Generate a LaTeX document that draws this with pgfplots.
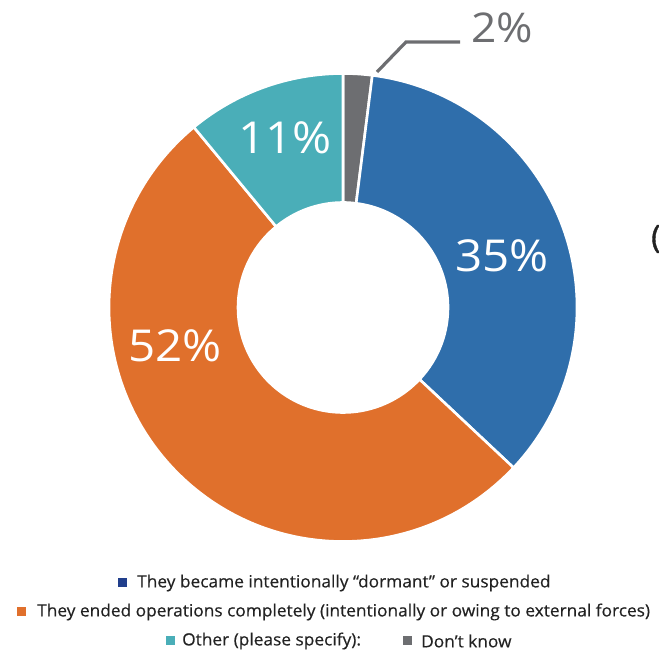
\documentclass[border=0pt]{standalone}
\usepackage{pgfplots}
\pgfplotsset{compat=1.18}
\usepackage{pgfplotstable}
\usepackage{fontspec}
\setmainfont{Open Sans}
\newfontfamily\legfont[FakeStretch=1.03,FakeBold=0.4]{Open Sans}
\newfontfamily\labfont[FakeStretch=1.08]{Open Sans}
\newfontfamily\parfont[FakeBold=1.2]{Open Sans}
\definecolor{cblue}{HTML}{2F6EAB}
\definecolor{cbluedark}{HTML}{213F8C}
\definecolor{corange}{HTML}{E0702C}
\definecolor{cteal}{HTML}{4AAEB8}
\definecolor{cgray}{HTML}{6D6E71}
\definecolor{ctext}{HTML}{222222}

\pgfplotstableread{
label value color
Dontknow 2 cgray
Dormant 35 cblue
Ended 52 corange
Other 11 cteal
}\piedata

\begin{document}
\begin{tikzpicture}
\begin{axis}[
  scale only axis, width=659pt, height=653pt,
  xmin=0, xmax=659, ymin=0, ymax=653,
  hide axis, clip=false,
]
\pgfplotsextra{
  \coordinate (C) at (axis cs:343,345.5);
  \xdef\cum{0}
  \foreach \i in {0,...,3}{
    \pgfplotstablegetelem{\i}{value}\of\piedata \let\v\pgfplotsretval
    \pgfplotstablegetelem{\i}{color}\of\piedata \let\c\pgfplotsretval
    \pgfmathsetmacro\aS{90-3.6*\cum}
    \pgfmathsetmacro\aE{90-3.6*(\cum+\v)}
    \pgfmathsetmacro\aB{\aE+180}
    \fill[\c, draw=white, line width=2.6pt, line join=miter]
      (C) ++(\aS:234pt) arc[start angle=\aS, end angle=\aE, radius=234pt]
      -- ++(\aB:129pt) arc[start angle=\aE, end angle=\aS, radius=105pt] -- cycle;
    \pgfmathsetmacro\nc{\cum+\v}
    \xdef\cum{\nc}
  }
}
% slice labels
\node[white, font=\labfont\fontsize{44}{48}\selectfont] at (axis cs:502,397) {35\%};
\node[white, font=\labfont\fontsize{44}{48}\selectfont] at (axis cs:175,307) {52\%};
\node[white, font=\labfont\fontsize{44}{48}\selectfont] at (axis cs:285,515) {11\%};
\node[cgray, font=\labfont\fontsize{41}{44}\selectfont] at (axis cs:502,625) {2\%};
\draw[cgray, line width=3.2pt] (axis cs:377,581) -- (axis cs:406,611) -- (axis cs:460,611);
% clipped glyph at the right edge
\node[ctext, anchor=west, inner sep=0pt, font=\parfont\fontsize{32}{36}\selectfont] at (axis cs:651,414) {(};
% legend
\fill[cbluedark] (axis cs:118,65.5) rectangle (axis cs:127,74.5);
\node[ctext, anchor=west, inner sep=0pt, font=\legfont\fontsize{16.8}{20}\selectfont] at (axis cs:137,70) {They became intentionally “dormant” or suspended};
\fill[corange] (axis cs:17,36.5) rectangle (axis cs:26,45.5);
\node[ctext, anchor=west, inner sep=0pt, font=\legfont\fontsize{16.8}{20}\selectfont] at (axis cs:37,41) {They ended operations completely (intentionally or owing to external forces)};
\fill[cteal] (axis cs:166,7.5) rectangle (axis cs:175,16.5);
\node[ctext, anchor=west, inner sep=0pt, font=\legfont\fontsize{16.8}{20}\selectfont] at (axis cs:182,12) {Other (please specify):};
\fill[cgray] (axis cs:403,7.5) rectangle (axis cs:412,16.5);
\node[ctext, anchor=west, inner sep=0pt, font=\legfont\fontsize{16.8}{20}\selectfont] at (axis cs:421,12) {Don’t know};
\end{axis}
\pgfresetboundingbox
\useasboundingbox (0,0) rectangle (659pt,653pt);
\end{tikzpicture}
\end{document}
